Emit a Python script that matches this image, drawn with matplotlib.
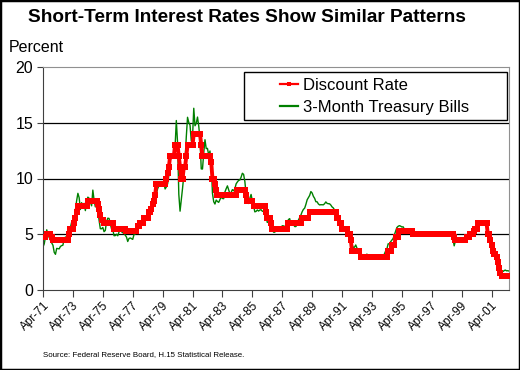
import matplotlib
matplotlib.use("Agg")
import matplotlib.pyplot as plt
import matplotlib.transforms as mtransforms
from matplotlib.patches import Rectangle
from matplotlib.lines import Line2D

plt.rcParams['font.family'] = ['Liberation Sans', 'DejaVu Sans']

# Monthly data, Apr-1971 .. Jun-2002
discount_rate = [
    4.75, 4.75, 4.75, 5.00, 5.00, 5.00, 5.00, 4.75, 4.50,                      # 1971 Apr-Dec
    4.50, 4.50, 4.50, 4.50, 4.50, 4.50, 4.50, 4.50, 4.50, 4.50, 4.50, 4.50,    # 1972
    5.00, 5.50, 5.50, 5.50, 6.00, 6.50, 7.00, 7.50, 7.50, 7.50, 7.50, 7.50,    # 1973
    7.50, 7.50, 7.50, 8.00, 8.00, 8.00, 8.00, 8.00, 8.00, 8.00, 8.00, 7.75,    # 1974
    7.25, 6.75, 6.25, 6.25, 6.00, 6.00, 6.00, 6.00, 6.00, 6.00, 6.00, 6.00,    # 1975
    5.50, 5.50, 5.50, 5.50, 5.50, 5.50, 5.50, 5.50, 5.50, 5.50, 5.25, 5.25,    # 1976
    5.25, 5.25, 5.25, 5.25, 5.25, 5.25, 5.25, 5.75, 5.75, 6.00, 6.00, 6.00,    # 1977
    6.50, 6.50, 6.50, 6.50, 7.00, 7.00, 7.25, 7.75, 8.00, 8.50, 9.50, 9.50,    # 1978
    9.50, 9.50, 9.50, 9.50, 9.50, 9.50, 10.00, 10.50, 11.00, 12.00, 12.00, 12.00,  # 1979
    12.00, 13.00, 13.00, 13.00, 12.00, 11.00, 10.00, 10.00, 11.00, 11.00, 12.00, 13.00,  # 1980
    13.00, 13.00, 13.00, 13.00, 14.00, 14.00, 14.00, 14.00, 14.00, 14.00, 13.00, 12.00,  # 1981
    12.00, 12.00, 12.00, 12.00, 12.00, 12.00, 11.50, 10.00, 10.00, 9.50, 9.00, 8.50,     # 1982
    8.50, 8.50, 8.50, 8.50, 8.50, 8.50, 8.50, 8.50, 8.50, 8.50, 8.50, 8.50,    # 1983
    8.50, 8.50, 8.50, 9.00, 9.00, 9.00, 9.00, 9.00, 9.00, 9.00, 8.50, 8.00,    # 1984
    8.00, 8.00, 8.00, 8.00, 7.50, 7.50, 7.50, 7.50, 7.50, 7.50, 7.50, 7.50,    # 1985
    7.50, 7.50, 7.00, 6.50, 6.50, 6.50, 6.00, 5.50, 5.50, 5.50, 5.50, 5.50,    # 1986
    5.50, 5.50, 5.50, 5.50, 5.50, 5.50, 5.50, 5.50, 6.00, 6.00, 6.00, 6.00,    # 1987
    6.00, 6.00, 6.00, 6.00, 6.00, 6.00, 6.00, 6.50, 6.50, 6.50, 6.50, 6.50,    # 1988
    6.50, 7.00, 7.00, 7.00, 7.00, 7.00, 7.00, 7.00, 7.00, 7.00, 7.00, 7.00,    # 1989
    7.00, 7.00, 7.00, 7.00, 7.00, 7.00, 7.00, 7.00, 7.00, 7.00, 7.00, 6.50,    # 1990
    6.50, 6.00, 6.00, 5.50, 5.50, 5.50, 5.50, 5.50, 5.00, 5.00, 4.50, 3.50,    # 1991
    3.50, 3.50, 3.50, 3.50, 3.50, 3.50, 3.00, 3.00, 3.00, 3.00, 3.00, 3.00,    # 1992
    3.00, 3.00, 3.00, 3.00, 3.00, 3.00, 3.00, 3.00, 3.00, 3.00, 3.00, 3.00,    # 1993
    3.00, 3.00, 3.00, 3.00, 3.50, 3.50, 3.50, 4.00, 4.00, 4.00, 4.75, 4.75,    # 1994
    4.75, 5.25, 5.25, 5.25, 5.25, 5.25, 5.25, 5.25, 5.25, 5.25, 5.25, 5.25,    # 1995
    5.00, 5.00, 5.00, 5.00, 5.00, 5.00, 5.00, 5.00, 5.00, 5.00, 5.00, 5.00,    # 1996
    5.00, 5.00, 5.00, 5.00, 5.00, 5.00, 5.00, 5.00, 5.00, 5.00, 5.00, 5.00,    # 1997
    5.00, 5.00, 5.00, 5.00, 5.00, 5.00, 5.00, 5.00, 5.00, 4.75, 4.50, 4.50,    # 1998
    4.50, 4.50, 4.50, 4.50, 4.50, 4.50, 4.50, 4.75, 4.75, 4.75, 5.00, 5.00,    # 1999
    5.00, 5.25, 5.50, 5.50, 6.00, 6.00, 6.00, 6.00, 6.00, 6.00, 6.00, 6.00,    # 2000
    5.00, 5.00, 4.50, 4.00, 3.50, 3.25, 3.25, 3.00, 2.50, 2.00, 1.50, 1.25,    # 2001
    1.25, 1.25, 1.25, 1.25, 1.25, 1.25,                                        # 2002 Jan-Jun
]

treasury_bills = [
    3.86, 4.14, 4.75, 5.40, 4.94, 4.69, 4.46, 4.22, 4.01,                      # 1971 Apr-Dec
    3.38, 3.20, 3.73, 3.71, 3.69, 3.91, 3.98, 4.02, 4.66, 4.74, 4.78, 5.07,    # 1972
    5.41, 5.60, 6.09, 6.26, 6.36, 7.19, 8.01, 8.67, 8.29, 7.22, 7.83, 7.45,    # 1973
    7.77, 7.12, 7.96, 8.33, 8.23, 7.90, 7.55, 8.96, 8.06, 7.46, 7.47, 7.15,    # 1974
    6.26, 5.50, 5.49, 5.61, 5.23, 5.34, 6.13, 6.44, 6.42, 5.96, 5.48, 5.44,    # 1975
    4.87, 4.88, 5.00, 4.86, 5.20, 5.41, 5.23, 5.14, 5.08, 4.92, 4.75, 4.35,    # 1976
    4.62, 4.67, 4.60, 4.54, 4.96, 5.02, 5.19, 5.49, 5.81, 6.16, 6.10, 6.07,    # 1977
    6.44, 6.45, 6.29, 6.29, 6.41, 6.73, 7.01, 7.08, 7.85, 7.99, 8.64, 9.08,    # 1978
    9.35, 9.32, 9.48, 9.46, 9.61, 9.06, 9.24, 9.52, 10.26, 11.70, 11.79, 12.04,     # 1979
    12.00, 12.86, 15.20, 13.20, 8.58, 7.07, 8.06, 9.13, 10.27, 11.62, 13.73, 15.49, # 1980
    15.02, 14.79, 13.36, 13.69, 16.30, 14.73, 14.95, 15.51, 14.70, 13.54, 10.86, 10.85,  # 1981
    12.28, 13.48, 12.68, 12.70, 12.09, 12.47, 11.35, 8.68, 7.92, 7.71, 8.07, 7.94,  # 1982
    7.86, 8.11, 8.35, 8.21, 8.19, 8.79, 9.08, 9.34, 9.00, 8.64, 8.76, 9.00,    # 1983
    8.90, 9.09, 9.52, 9.69, 9.83, 9.87, 10.12, 10.47, 10.37, 9.74, 8.61, 8.06, # 1984
    7.76, 8.22, 8.57, 8.00, 7.56, 7.01, 7.05, 7.18, 7.08, 7.17, 7.20, 7.07,    # 1985
    7.04, 7.03, 6.59, 6.06, 6.12, 6.21, 5.84, 5.57, 5.19, 5.18, 5.35, 5.49,    # 1986
    5.45, 5.59, 5.56, 5.76, 5.75, 5.69, 5.78, 6.00, 6.32, 6.40, 5.81, 5.80,    # 1987
    5.90, 5.69, 5.69, 5.92, 6.27, 6.50, 6.73, 7.02, 7.23, 7.34, 7.68, 8.09,    # 1988
    8.29, 8.48, 8.83, 8.70, 8.40, 8.22, 7.92, 7.91, 7.72, 7.63, 7.65, 7.64,    # 1989
    7.64, 7.74, 7.90, 7.77, 7.74, 7.73, 7.62, 7.45, 7.36, 7.17, 7.06, 6.74,    # 1990
    6.22, 5.94, 5.91, 5.65, 5.46, 5.57, 5.58, 5.33, 5.22, 4.99, 4.56, 4.07,    # 1991
    3.80, 3.84, 4.04, 3.75, 3.63, 3.66, 3.21, 3.13, 2.91, 2.86, 3.13, 3.22,    # 1992
    3.00, 2.93, 2.95, 2.87, 2.96, 3.07, 3.04, 3.02, 2.95, 3.02, 3.10, 3.06,    # 1993
    2.98, 3.25, 3.50, 3.68, 4.14, 4.14, 4.33, 4.48, 4.62, 4.95, 5.29, 5.60,    # 1994
    5.71, 5.77, 5.73, 5.65, 5.67, 5.47, 5.42, 5.40, 5.28, 5.28, 5.36, 5.14,    # 1995
    5.00, 4.83, 4.96, 4.95, 5.02, 5.09, 5.15, 5.05, 5.09, 4.99, 5.03, 4.91,    # 1996
    5.03, 5.01, 5.14, 5.16, 5.05, 4.93, 5.05, 5.14, 4.95, 4.97, 5.14, 5.16,    # 1997
    5.04, 5.09, 5.03, 4.95, 5.00, 4.98, 4.96, 4.90, 4.61, 3.96, 4.41, 4.39,    # 1998
    4.34, 4.44, 4.44, 4.29, 4.50, 4.57, 4.55, 4.72, 4.68, 4.86, 5.07, 5.20,    # 1999
    5.32, 5.55, 5.69, 5.66, 5.79, 5.69, 5.96, 6.09, 6.00, 6.11, 6.17, 5.77,    # 2000
    5.15, 4.88, 4.42, 3.87, 3.62, 3.49, 3.51, 3.36, 2.64, 2.16, 1.87, 1.69,    # 2001
    1.65, 1.73, 1.79, 1.72, 1.73, 1.70,                                        # 2002 Jan-Jun
]

series_names = ["Discount Rate", "3-Month Treasury Bills"]
tick_labels = ["Apr-71", "Apr-73", "Apr-75", "Apr-77", "Apr-79", "Apr-81",
               "Apr-83", "Apr-85", "Apr-87", "Apr-89", "Apr-91", "Apr-93",
               "Apr-95", "Apr-97", "Apr-99", "Apr-01"]
y_ticks = [0, 5, 10, 15, 20]

months = list(range(len(discount_rate)))

W, H = 520, 370
fig = plt.figure(figsize=(W / 100, H / 100), dpi=100)
ax = fig.add_axes([43 / W, 1 - 290 / H, (509 - 43) / W, (290 - 67) / H])

for y in [5, 10, 15]:
    ax.axhline(y, color='black', linewidth=0.9, zorder=1)

red = '#ff0000'
green = '#008000'
ax.plot(months, treasury_bills, color=green, linewidth=1.0, zorder=2)
ax.plot(months, discount_rate, color=red, linewidth=2.8, marker='s',
        markersize=3.8, markeredgewidth=0, zorder=3)

ax.set_xlim(0, len(months) - 1)
ax.set_ylim(0, 20)
ax.set_yticks(y_ticks)
ax.set_yticklabels([str(v) for v in y_ticks], fontsize=11.5)
ax.set_xticks(list(range(0, 24 * len(tick_labels), 24)))
ax.set_xticklabels(tick_labels, rotation=45, ha='right', va='top',
                   rotation_mode='anchor', fontsize=8.5)
off = mtransforms.ScaledTranslation(-4 / 100, -9 / 100, fig.dpi_scale_trans)
for lbl in ax.get_xticklabels():
    lbl.set_transform(lbl.get_transform() + off)
ax.tick_params(axis='x', length=5, width=0.8, color='#404040', pad=2)
ax.tick_params(axis='y', length=4, width=0.8, color='#404040', pad=3)

for side in ['top', 'right']:
    ax.spines[side].set_color('#909090')
ax.spines['left'].set_color('#404040')
ax.spines['bottom'].set_color('#404040')

# legend box
fig.patches.append(Rectangle((244 / W, 1 - 120 / H), (507 - 244) / W, (120 - 72) / H,
                             transform=fig.transFigure, facecolor='white',
                             edgecolor='black', linewidth=1.0, zorder=5))
handles = [Line2D([], [], color=red, linewidth=1.6, marker='s', markersize=3.5,
                  markeredgewidth=0),
           Line2D([], [], color=green, linewidth=1.6)]
leg = fig.legend(handles, series_names, loc='center left',
                 bbox_to_anchor=(280 / W, 1 - 96.5 / H), bbox_transform=fig.transFigure,
                 fontsize=12, frameon=False, borderpad=0, handlelength=1.1,
                 handletextpad=0.3, labelspacing=0.4, borderaxespad=0)
leg.set_zorder(6)

fig.text(247 / W, 1 - 18 / H, "Short-Term Interest Rates Show Similar Patterns",
         ha='center', va='center', fontsize=13.7, fontweight='bold')
fig.text(9 / W, 1 - 48 / H, "Percent", ha='left', va='center', fontsize=11.5)
fig.text(43 / W, 1 - 355 / H, "Source: Federal Reserve Board, H.15 Statistical Release.",
         ha='left', va='center', fontsize=5.7)

fig.patches.append(Rectangle((0, 0), 1, 1, transform=fig.transFigure, fill=False,
                             edgecolor='black', linewidth=2.5, zorder=10))

fig.savefig("out.png", dpi=100)
